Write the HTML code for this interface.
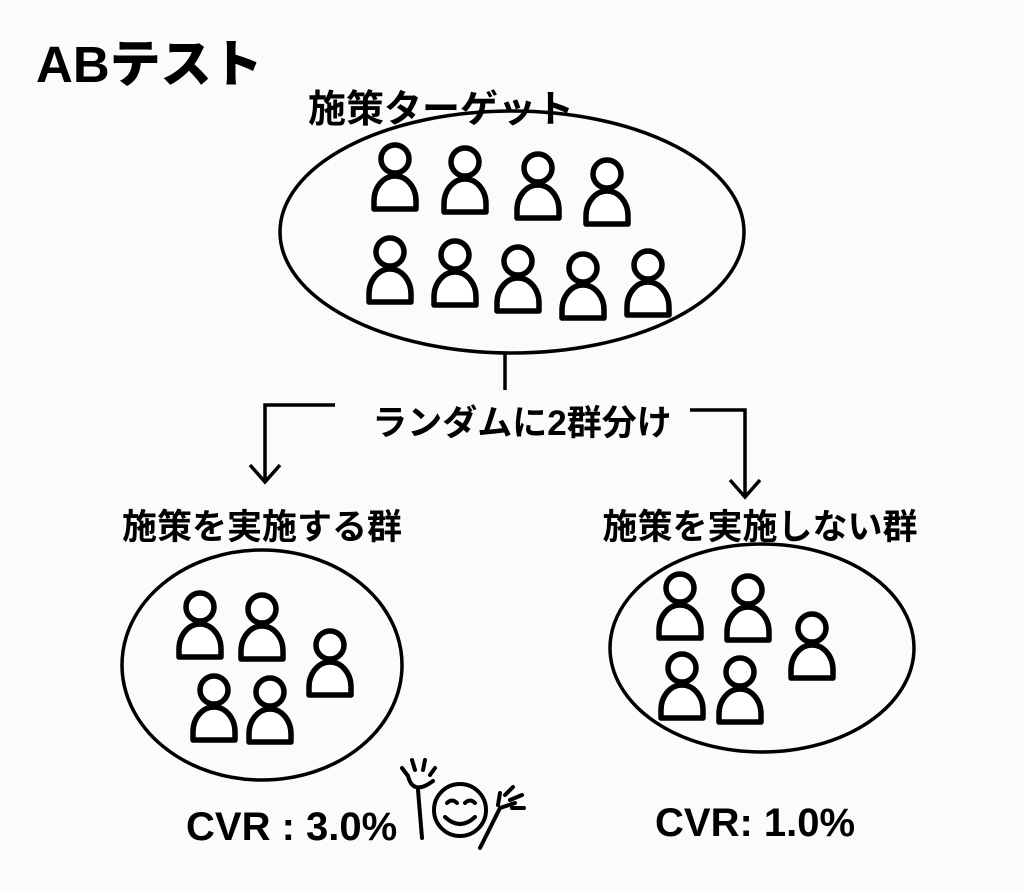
<!DOCTYPE html>
<html><head><meta charset="utf-8"><style>
body{margin:0;background:#fbfbf9;width:1024px;height:891px;overflow:hidden}
svg{display:block}
text{font-family:"Liberation Sans","Noto Sans CJK JP",sans-serif;fill:#000}
</style></head><body>
<svg width="1024" height="891" viewBox="0 0 1024 891">
<defs>
<g id="p" fill="#fff" stroke="#000" stroke-width="5.5" stroke-linejoin="round">
<circle cx="0" cy="0" r="14"/>
<path d="M-21,50 L-21,42 A21,25 0 0 1 21,42 L21,50 Z"/>
</g>
</defs>
<text x="36" y="82" font-size="51" font-weight="900">ABテスト</text>
<text x="308" y="122" font-size="38" font-weight="700">施策ターゲット</text>
<g fill="none" stroke="#000" stroke-width="3.5">
<ellipse cx="512" cy="232" rx="232" ry="121"/>
<ellipse cx="262" cy="665" rx="140" ry="115"/>
<ellipse cx="762" cy="648" rx="152" ry="104"/>
<path d="M505,353 V390"/>
<path d="M335,405 H265 V482 M250,465 L265,482 L280,465"/>
<path d="M690,410 H745 V497 M730,480 L745,497 L760,480"/>
</g>
<g>
<use href="#p" x="395" y="159"/><use href="#p" x="465" y="162"/><use href="#p" x="538" y="168"/><use href="#p" x="607" y="174"/>
<use href="#p" x="390" y="252"/><use href="#p" x="455" y="255"/><use href="#p" x="518" y="261"/><use href="#p" x="583" y="268"/><use href="#p" x="648" y="265"/>
<use href="#p" x="200" y="607"/><use href="#p" x="262" y="609"/><use href="#p" x="330" y="645"/><use href="#p" x="214" y="690"/><use href="#p" x="270" y="692"/>
<use href="#p" x="680" y="588"/><use href="#p" x="748" y="590"/><use href="#p" x="812" y="628"/><use href="#p" x="682" y="668"/><use href="#p" x="740" y="672"/>
</g>
<text x="522" y="435" font-size="35" font-weight="700" text-anchor="middle">ランダムに2群分け</text>
<text x="262" y="539" font-size="35" font-weight="700" text-anchor="middle">施策を実施する群</text>
<text x="760" y="539" font-size="35" font-weight="700" text-anchor="middle">施策を実施しない群</text>
<text x="186" y="840" font-size="40" font-weight="700">CVR : 3.0%</text>
<text x="655" y="836" font-size="40" font-weight="700">CVR: 1.0%</text>
<g fill="none" stroke="#000" stroke-width="4" stroke-linecap="round">
<circle cx="460" cy="810" r="26"/>
<path d="M447,803 q5,-5 10,0 M465,803 q5,-5 10,0 M445,817 q15,14 30,0"/>
<path d="M422,838 L418,790 M408,776 l-6,-8 M415,770 l-3,-10 M423,770 l2,-10 M430,775 l5,-7 M408,776 q5,20 25,5"/>
<path d="M480,848 L500,808 M500,808 l15,-5 M505,795 l8,-8 M510,800 l12,-5 M512,808 l12,0 M498,805 l2,-12"/>
</g>
</svg>
</body></html>
